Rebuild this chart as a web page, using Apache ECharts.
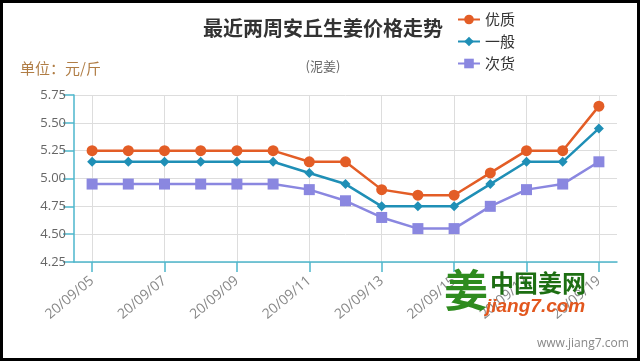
<!DOCTYPE html>
<html><head><meta charset="utf-8">
<script src="https://cdn.jsdelivr.net/npm/echarts@6/dist/echarts.min.js"></script>
<style>html,body{margin:0;padding:0;background:#fff}#c{width:640px;height:361px}
#b{position:absolute;left:0;top:0;width:640px;height:361px;box-sizing:border-box;border:3px solid #000;pointer-events:none}</style>
</head><body><div id="c"></div><div id="b"></div>
<script>
const categories = ['20/09/05','20/09/06','20/09/07','20/09/08','20/09/09','20/09/10','20/09/11','20/09/12','20/09/13','20/09/14','20/09/15','20/09/16','20/09/17','20/09/18','20/09/19'];
const premium = [5.25,5.25,5.25,5.25,5.25,5.25,5.15,5.15,4.90,4.85,4.85,5.05,5.25,5.25,5.65];
const normal  = [5.15,5.15,5.15,5.15,5.15,5.15,5.05,4.95,4.75,4.75,4.75,4.95,5.15,5.15,5.45];
const low     = [4.95,4.95,4.95,4.95,4.95,4.95,4.90,4.80,4.65,4.55,4.55,4.75,4.90,4.95,5.15];
const seriesNames = ['优质','一般','次货'];

const chart = echarts.init(document.getElementById('c'), null, {renderer:'canvas'});
const axisColor = '#4db6cc';
const font = '"Noto Sans CJK SC","Noto Sans",sans-serif';
const latin = '"Open Sans","Noto Sans",sans-serif';
chart.setOption({
  animation:false,
  textStyle:{fontFamily:font},
  title:[
    {text:'最近两周安丘生姜价格走势', left:318, top:13, textAlign:'center',
     textStyle:{fontSize:20, fontWeight:'bold', color:'#333', fontFamily:font}},
    {text:'(泥姜)', left:318, top:55, textAlign:'center',
     textStyle:{fontSize:13, fontWeight:'normal', color:'#666', fontFamily:font}}
  ],
  legend:{
    orient:'vertical', left:452, top:7, itemGap:7, itemWidth:22, itemHeight:12,
    data:seriesNames,
    textStyle:{fontSize:15, color:'#333', fontFamily:font}
  },
  grid:{left:74, right:23, top:95, bottom:99},
  xAxis:{
    type:'category', data:categories, boundaryGap:true,
    axisLine:{lineStyle:{color:axisColor, width:1.5}},
    axisTick:{show:true, interval:1, alignWithLabel:true, length:10, lineStyle:{color:axisColor, width:1.5}},
    axisLabel:{interval:1, rotate:40, color:'#888', fontSize:14, margin:17, fontFamily:latin},
    splitLine:{show:true, interval:1, alignWithLabel:true, lineStyle:{color:'#ddd', width:1}}
  },
  yAxis:{
    type:'value', min:4.25, max:5.75, interval:0.25,
    axisLine:{show:true, lineStyle:{color:axisColor, width:1.5}},
    axisTick:{show:true, length:11, lineStyle:{color:axisColor, width:1.5}},
    axisLabel:{color:'#666', fontSize:13, margin:8, fontFamily:latin, formatter:v=>v.toFixed(2)},
    splitLine:{show:true, lineStyle:{color:'#ddd', width:1}}
  },
  series:[
    {name:seriesNames[0], type:'line', data:premium, symbol:'circle', symbolSize:11,
     itemStyle:{color:'#e35d26'}, lineStyle:{color:'#e35d26', width:2.5}},
    {name:seriesNames[1], type:'line', data:normal, symbol:'diamond', symbolSize:10,
     itemStyle:{color:'#1f8fb6'}, lineStyle:{color:'#1f8fb6', width:2.5}},
    {name:seriesNames[2], type:'line', data:low, symbol:'rect', symbolSize:11,
     itemStyle:{color:'#8a87e0'}, lineStyle:{color:'#8a87e0', width:2.5}}
  ],
  graphic:[
    {type:'text', left:20, top:61, style:{text:'单位：元/斤', fill:'#b07d45', font:'15px '+font}},
    {type:'text', left:444, top:268, z:100, style:{text:'姜', fill:'#2e8b1e', font:'bold 44px '+font}},
    {type:'text', left:490, top:271, z:100, style:{text:'中国姜网', fill:'#1d6e12', font:'bold 24px '+font}},
    {type:'text', left:486, top:297, z:100, style:{text:'jiang7.com', fill:'#e2571e', font:'italic bold 19px "Liberation Sans",sans-serif'}},
    {type:'text', left:537, top:338, style:{text:'www.jiang7.com', fill:'#888', font:'12px '+latin}}
  ]
});
</script></body></html>
